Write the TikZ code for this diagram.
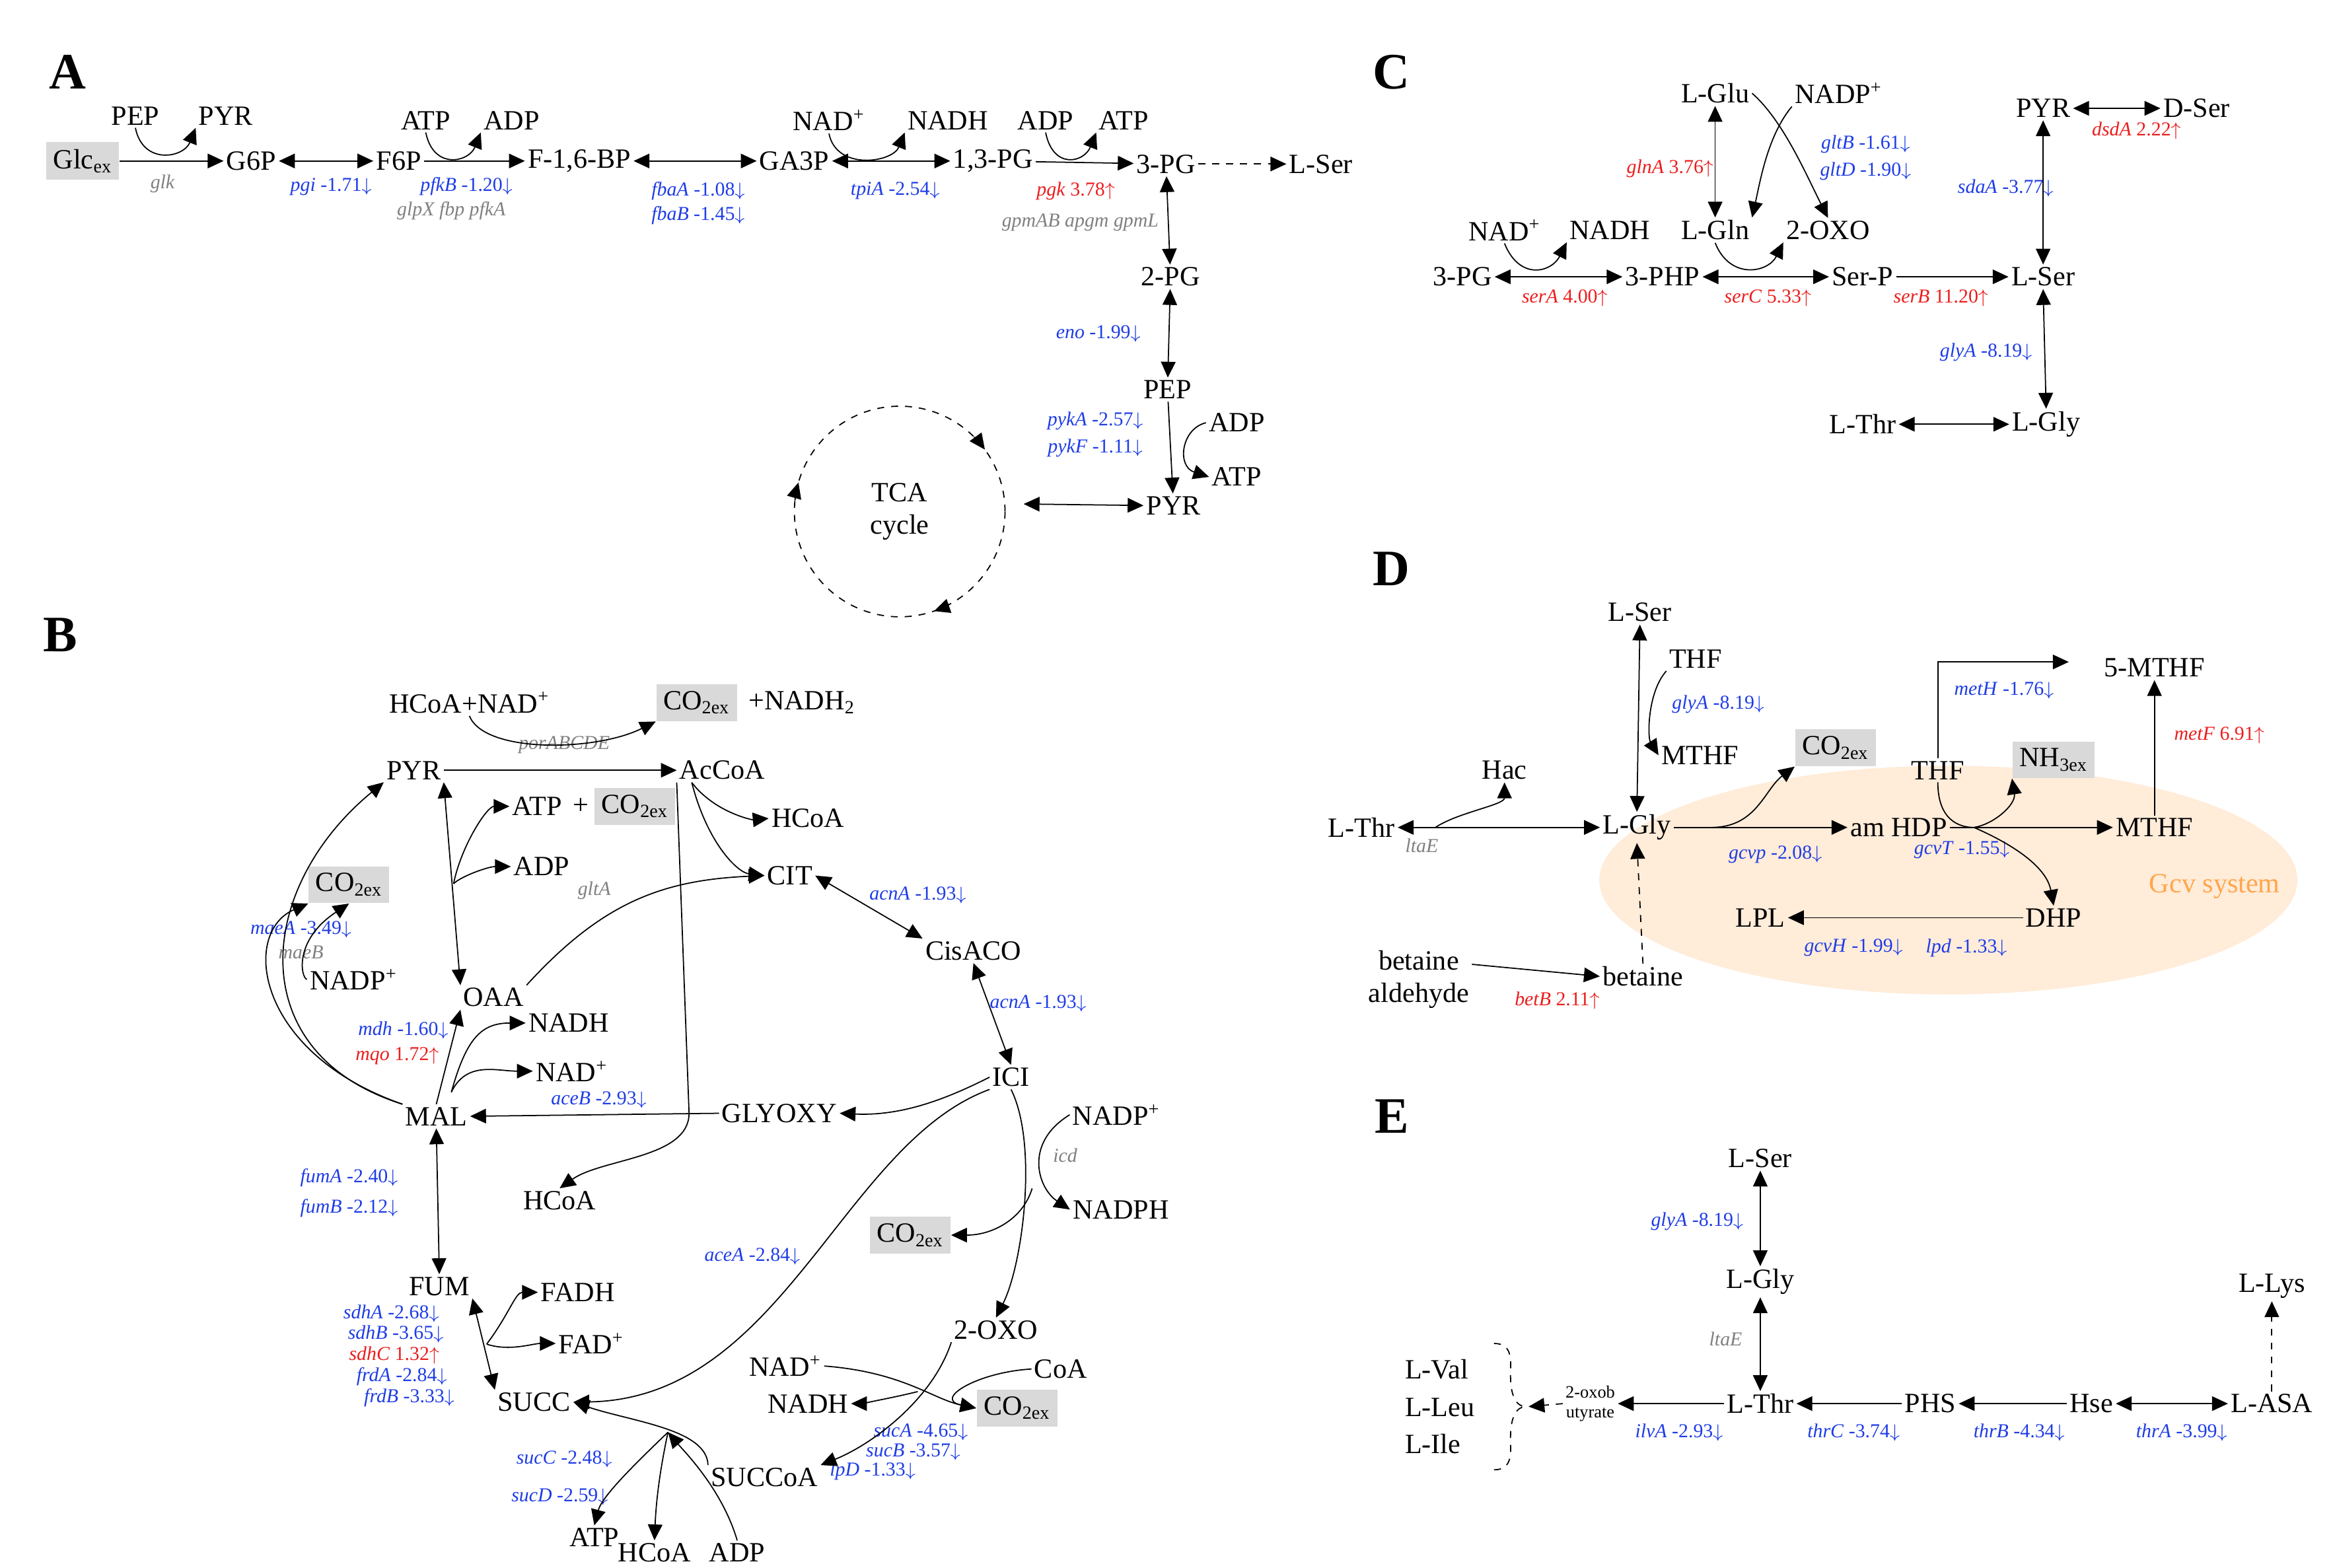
\documentclass[tikz,border=0pt]{standalone}
\usepackage{fontspec}
\setmainfont{Liberation Serif}
\usetikzlibrary{arrows.meta,positioning,calc}
\definecolor{enzblue}{RGB}{30,60,230}
\definecolor{enzred}{RGB}{235,30,30}
\newcommand{\dn}[2]{\textit{#1} #2$\downarrow$}
\newcommand{\up}[2]{\textit{#1} #2$\uparrow$}
\begin{document}
\begin{tikzpicture}
[x=0.2278mm, y=-0.2278mm, line width=0.5pt, >={Triangle[length=2.4mm,width=2.2mm]},
met/.style={font=\fontsize{12}{14}\selectfont, inner sep=1pt},
ex/.style={met, fill=black!15, inner sep=3pt},
enz/.style={font=\fontsize{8.5}{10}\selectfont, inner sep=0.5pt, text=enzblue},
enzr/.style={enz, text=enzred},
enzg/.style={enz, text=gray, font=\fontsize{8.5}{10}\selectfont\itshape},
panel/.style={font=\fontsize{22}{24}\selectfont\bfseries}]
\useasboundingbox (0,0) rectangle (1552,1042);

% ---- A: glycolysis
\node[panel] at (45,48) {A};
\node[ex] (glc) at (55,107) {Glc\textsubscript{ex}};
\node[met] (pepA1) at (90,77) {PEP};
\node[met] (pyrA1) at (150,77) {PYR};
\node[met] (g6p) at (167,107) {G6P};
\node[met] (f6p) at (265,107) {F6P};
\node[met] (f16bp) at (385,107) {F-1,6-BP};
\node[met] (ga3p) at (528,107) {GA3P};
\node[met] (pg13) at (660,107) {1,3-PG};
\node[met] (pg3) at (775,109) {3-PG};
\node[met] (lserA) at (878,109) {L-Ser};
\node[met] (atpA1) at (283,80) {ATP};
\node[met] (adpA1) at (340,80) {ADP};
\node[met] (nadA) at (551,80) {NAD\textsuperscript{+}};
\node[met] (nadhA) at (630,80) {NADH};
\node[met] (adpA2) at (695,80) {ADP};
\node[met] (atpA2) at (747,80) {ATP};
\node[enzg] at (108,122) {glk};
\node[enz] at (220,124) {\dn{pgi}{-1.71}};
\node[enz] at (310,124) {\dn{pfkB}{-1.20}};
\node[enzg] at (300,140) {glpX fbp pfkA};
\node[enz] at (464,127) {\dn{fbaA}{-1.08}};
\node[enz] at (464,143) {\dn{fbaB}{-1.45}};
\node[enz] at (595,127) {\dn{tpiA}{-2.54}};
\node[enzr] at (715,127) {\up{pgk}{3.78}};
\node[enzg] at (718,148) {gpmAB apgm gpmL};
\node[met] (pg2) at (778,184) {2-PG};
\node[enz] at (730,222) {\dn{eno}{-1.99}};
\node[met] (pepA2) at (776,259) {PEP};
\node[enz] at (728,280) {\dn{pykA}{-2.57}};
\node[enz] at (728,298) {\dn{pykF}{-1.11}};
\node[met] (adpA3) at (822,281) {ADP};
\node[met] (atpA3) at (822,317) {ATP};
\node[met] (pyrA2) at (780,336) {PYR};
\node[met, circle, draw, dashed, minimum size=140*0.2278mm, align=center] (tca) at (598,340) {TCA\\cycle};

\draw[->] (glc) -- (g6p);
\draw[->] (pepA1.south) .. controls +(5,25) and +(-8,20) .. (pyrA1.south west);
\draw[<->] (g6p) -- (f6p);
\draw[->] (f6p) -- (f16bp);
\draw[->] (atpA1.south) .. controls +(5,25) and +(-8,20) .. (adpA1.south west);
\draw[<->] (f16bp) -- (ga3p);
\draw[<->] (ga3p) -- (pg13);
\draw[->] (nadA.south) .. controls +(5,25) and +(-8,20) .. (nadhA.south west);
\draw[->] (pg13) -- (pg3);
\draw[->] (adpA2.south) .. controls +(5,25) and +(-8,20) .. (atpA2.south west);
\draw[->, dashed] (pg3) -- (lserA);
\draw[<->] (pg3) -- (pg2);
\draw[<->] (pg2) -- (pepA2);
\draw[->] (pepA2) -- (pyrA2);
\draw[->] (adpA3.west) .. controls (785,285) and (782,310) .. (atpA3.west);
\draw[<->] (tca.east) ++(12,-5) coordinate (tcaE) (tcaE) -- (pyrA2.west);
\draw[->] ([shift={(-45:70)}]tca.center) arc (-45:-36:70);
\draw[->] ([shift={(186:70)}]tca.center) arc (186:196:70);
\draw[->] ([shift={(62:70)}]tca.center) arc (62:71:70);

% ---- B: TCA cycle
\node[panel] at (40,422) {B};
\node[met] (hcoanad) at (312,467) {HCoA+NAD\textsuperscript{+}};
\node[ex] (co2B1) at (463,467) {CO\textsubscript{2ex}};
\node[met] at (533,467) {+NADH\textsubscript{2}};
\node[enzg] at (375,495) {porABCDE};
\node[met] (pyrB) at (275,512) {PYR};
\node[met] (accoa) at (480,512) {AcCoA};
\node[met] (atpB) at (357,536) {ATP};
\node[met] at (386,536) {+};
\node[ex] (co2B2) at (422,536) {CO\textsubscript{2ex}};
\node[met] (hcoaB1) at (537,544) {HCoA};
\node[met] (adpB) at (360,576) {ADP};
\node[met] (cit) at (525,582) {CIT};
\node[enzg] at (395,592) {gltA};
\node[ex] (co2B3) at (232,588) {CO\textsubscript{2ex}};
\node[enz] at (200,618) {\dn{maeA}{-3.49}};
\node[enzg] at (200,633) {maeB};
\node[met] (nadpB1) at (235,651) {NADP\textsuperscript{+}};
\node[met] (oaa) at (328,663) {OAA};
\node[met] (nadhB1) at (378,680) {NADH};
\node[enz] at (268,685) {\dn{mdh}{-1.60}};
\node[enzr] at (264,702) {\up{mqo}{1.72}};
\node[met] (nadB1) at (380,712) {NAD\textsuperscript{+}};
\node[enz] at (398,731) {\dn{aceB}{-2.93}};
\node[enz] at (610,595) {\dn{acnA}{-1.93}};
\node[met] (cisaco) at (647,632) {CisACO};
\node[enz] at (690,667) {\dn{acnA}{-1.93}};
\node[met] (ici) at (672,716) {ICI};
\node[met] (nadpB2) at (742,741) {NADP\textsuperscript{+}};
\node[enzg] at (708,768) {icd};
\node[met] (nadphB) at (745,804) {NADPH};
\node[met] (mal) at (290,742) {MAL};
\node[met] (glyoxy) at (518,740) {GLYOXY};
\node[met] (hcoaB2) at (372,798) {HCoA};
\node[enz] at (232,783) {\dn{fumA}{-2.40}};
\node[enz] at (232,803) {\dn{fumB}{-2.12}};
\node[met] (fum) at (292,855) {FUM};
\node[met] (fadh) at (384,859) {FADH};
\node[met] (fad) at (393,893) {FAD\textsuperscript{+}};
\node[enz] at (260,873) {\dn{sdhA}{-2.68}};
\node[enz] at (263,887) {\dn{sdhB}{-3.65}};
\node[enzr] at (262,901) {\up{sdhC}{1.32}};
\node[enz] at (267,915) {\dn{frdA}{-2.84}};
\node[enz] at (272,929) {\dn{frdB}{-3.33}};
\node[met] (succ) at (355,932) {SUCC};
\node[enz] at (500,835) {\dn{aceA}{-2.84}};
\node[ex] (co2B4) at (605,821) {CO\textsubscript{2ex}};
\node[met] (oxoB) at (662,884) {2-OXO};
\node[met] (nadB2) at (522,908) {NAD\textsuperscript{+}};
\node[met] (coa) at (705,910) {CoA};
\node[met] (nadhB2) at (537,933) {NADH};
\node[ex] (co2B5) at (676,936) {CO\textsubscript{2ex}};
\node[enz] at (375,970) {\dn{sucC}{-2.48}};
\node[enz] at (372,995) {\dn{sucD}{-2.59}};
\node[met] (succoa) at (508,982) {SUCCoA};
\node[enz] at (612,952) {\dn{sucA}{-4.65}};
\node[enz] at (607,965) {\dn{sucB}{-3.57}};
\node[enz] at (580,978) {\dn{lpD}{-1.33}};
\node[met] (atpB2) at (395,1022) {ATP};
\node[met] (hcoaB3) at (435,1032) {HCoA};
\node[met] (adpB2) at (490,1032) {ADP};

\draw[->] (hcoanad.south) .. controls +(10,25) and +(-40,20) .. (co2B1.south west);
\draw[->] (pyrB) -- (accoa);
\draw[<->] (pyrB.south east) -- (oaa.north west);
\path (pyrB) -- coordinate[pos=.5] (pc) (oaa);
\draw[->] (pc) .. controls +(5,-25) and +(-15,0) .. (atpB.west);
\draw[->] (pc) .. controls +(5,-5) and +(-15,0) .. (adpB.west);
\draw[->] (oaa.north east) .. controls (400,600) and (440,585) .. (cit.west);
\draw[->] (accoa.south west) ++(10,0) coordinate (acd) (acd) .. controls (470,560) and (490,580) .. (cit.west);
\draw[->] (acd) .. controls (475,540) and (500,545) .. (hcoaB1.west);
\draw[->] (accoa.south west) coordinate (acd2) (acd2) -- (458,740) .. controls (458,770) and (400,770) .. (hcoaB2.north);
\draw[<->] (cit.east) -- (cisaco.north west);
\draw[<->] (cisaco.south) -- (ici.north);
\draw[->] (ici.west) .. controls (630,730) and (600,742) .. (glyoxy.east);
\draw[->] (glyoxy.west) -- (mal.east);
\draw[->] (mal.north west) .. controls (160,700) and (170,590) .. (pyrB.south west);
\draw[->] (mal.north west) .. controls (170,700) and (160,620) .. (co2B3.south west);
\draw[->] (nadpB1.west) .. controls (200,650) and (195,625) .. (co2B3.south);
\draw[->] (mal.north) -- (oaa.south west);
\draw[->] (mal.north) ++(10,-8) coordinate (mo) (mo) .. controls (310,690) and (320,680) .. (nadhB1.west);
\draw[->] (mo) .. controls (310,705) and (330,712) .. (nadB1.west);
\draw[<->] (mal.south) -- (fum.north);
\draw[<->] (fum.south east) -- (succ.north west);
\path (fum) -- coordinate[pos=.5] (fs) (succ);
\draw[->] (fs) .. controls +(15,-20) and +(-15,0) .. (fadh.west);
\draw[->] (fs) .. controls +(15,5) and +(-15,0) .. (fad.west);
\draw[->] (ici.south west) .. controls (560,760) and (520,930) .. (succ.east);
\draw[->] (ici.south) .. controls (690,760) and (680,840) .. (oxoB.north);
\draw[->] (nadpB2.west) .. controls (680,760) and (690,790) .. (nadphB.west);
\draw[->] (686,790) .. controls (680,810) and (660,821) .. (co2B4.east);
\draw[->] (oxoB.south west) .. controls (620,930) and (580,960) .. (succoa.north east);
\draw[->] (coa.west) .. controls (650,912) and (620,930) .. (co2B5.west);
\draw[->] (nadB2.east) .. controls (600,912) and (620,930) .. (co2B5.west);
\draw[->] (610,925) .. controls (590,930) and (570,933) .. (nadhB2.east);
\draw[->] (succoa.north west) .. controls (470,950) and (420,945) .. (succ.east);
\draw[->] (444,952) .. controls (420,975) and (400,995) .. (atpB2.north);
\draw[->] (444,952) .. controls (438,980) and (436,1000) .. (hcoaB3.north);
\draw[->] (adpB2.north) .. controls (480,990) and (455,965) .. (444,952);

% ---- C: serine
\node[panel] at (925,48) {C};
\node[met] (lglu) at (1140,62) {L-Glu};
\node[met] (nadpC) at (1222,62) {NADP\textsuperscript{+}};
\node[met] (pyrC) at (1358,72) {PYR};
\node[met] (dser) at (1460,72) {D-Ser};
\node[enzr] at (1420,87) {\up{dsdA}{2.22}};
\node[enzr] at (1110,112) {\up{glnA}{3.76}};
\node[enz] at (1240,96) {\dn{gltB}{-1.61}};
\node[enz] at (1240,114) {\dn{gltD}{-1.90}};
\node[enz] at (1333,125) {\dn{sdaA}{-3.77}};
\node[met] (nadC) at (1000,153) {NAD\textsuperscript{+}};
\node[met] (nadhC) at (1070,153) {NADH};
\node[met] (lgln) at (1140,153) {L-Gln};
\node[met] (oxoC) at (1215,153) {2-OXO};
\node[met] (pg3C) at (972,184) {3-PG};
\node[met] (php) at (1105,184) {3-PHP};
\node[met] (serp) at (1238,184) {Ser-P};
\node[met] (lserC) at (1358,184) {L-Ser};
\node[enzr] at (1040,198) {\up{serA}{4.00}};
\node[enzr] at (1175,198) {\up{serC}{5.33}};
\node[enzr] at (1290,198) {\up{serB}{11.20}};
\node[enz] at (1320,234) {\dn{glyA}{-8.19}};
\node[met] (lthrC) at (1238,282) {L-Thr};
\node[met] (lglyC) at (1360,282) {L-Gly};

\draw[<->] (pg3C) -- (php);
\draw[->] (nadC.south) .. controls +(10,25) and +(-10,20) .. (nadhC.south west);
\draw[<->] (php) -- (serp);
\draw[->] (lgln.south) .. controls +(10,25) and +(-10,20) .. (oxoC.south west);
\draw[->] (serp) -- (lserC);
\draw[<->] (lglu.south) -- (lgln.north);
\draw[->] (nadpC.south west) .. controls (1175,90) and (1170,120) .. (lgln.north east);
\draw[->] (lglu.east) .. controls (1185,80) and (1200,115) .. (oxoC.north);
\draw[<->] (pyrC.south) -- (lserC.north);
\draw[<->] (pyrC) -- (dser);
\draw[<->] (lserC.south) -- (lglyC.north);
\draw[<->] (lthrC) -- (lglyC);

% ---- D: glycine cleavage
\node[panel] at (925,378) {D};
\fill[orange!15] (1295,585) ellipse (232 and 76);
\node[met] (lserD) at (1090,407) {L-Ser};
\node[met] (thfD1) at (1127,438) {THF};
\node[enz] at (1142,468) {\dn{glyA}{-8.19}};
\node[met] (mthfD1) at (1130,502) {MTHF};
\node[enz] at (1332,459) {\dn{metH}{-1.76}};
\node[met] (mthf5) at (1432,444) {5-MTHF};
\node[enzr] at (1475,489) {\up{metF}{6.91}};
\node[met] (hac) at (1000,512) {Hac};
\node[ex] (co2D) at (1220,497) {CO\textsubscript{2ex}};
\node[met] (thfD2) at (1288,512) {THF};
\node[ex] (nh3) at (1365,505) {NH\textsubscript{3ex}};
\node[met] (lthrD) at (905,550) {L-Thr};
\node[enzg] at (945,562) {ltaE};
\node[met] (lglyD) at (1088,550) {L-Gly};
\node[met] (amhdp) at (1262,550) {am HDP};
\node[met] (mthfD2) at (1432,550) {MTHF};
\node[enz] at (1180,568) {\dn{gcvp}{-2.08}};
\node[enz] at (1304,565) {\dn{gcvT}{-1.55}};
\node[met, text=orange!70] at (1472,589) {Gcv system};
\node[met] (lpl) at (1170,610) {LPL};
\node[met] (dhp) at (1365,610) {DHP};
\node[enz] at (1232,630) {\dn{gcvH}{-1.99}};
\node[enz] at (1307,630) {\dn{lpd}{-1.33}};
\node[met, align=center] (betald) at (943,651) {betaine\\aldehyde};
\node[met] (betaine) at (1092,649) {betaine};
\node[enzr] at (1035,665) {\up{betB}{2.11}};

\draw[<->] (lserD.south) -- (lglyD.north);
\draw[->] (thfD1.south west) .. controls (1095,460) and (1095,490) .. (mthfD1.west);
\draw[<->] (lthrD) -- (lglyD);
\draw[->] (lthrD.east) ++(25,0) coordinate (tg) (tg) .. controls +(15,-10) and +(0,15) .. (hac.south);
\draw[->] (lglyD) -- (amhdp);
\draw[->] (lglyD.east) ++(25,0) coordinate (ga) (ga) .. controls +(30,0) and +(-20,15) .. (co2D.south west);
\draw[->] (amhdp) -- (mthfD2);
\coordinate (am) at (1312,550);
\draw (thfD2.south) .. controls +(0,25) and +(-10,0) .. (am);
\draw[->] (am) .. controls (1325,548) and (1340,535) .. (nh3.south west);
\draw[->] (am) .. controls (1335,560) and (1360,575) .. (dhp.north);
\draw[->] (thfD2.north) |- (1375,440) coordinate (mh);
\draw[->] (mthfD2.north) -- (mthf5.south);
\draw[->] (dhp.west) -- (lpl.east);
\draw[->] (betald.east |- 0,641) coordinate (ba) (ba) -- (betaine.west);
\draw[->, dashed] (betaine.north) -- (lglyD.south);

% ---- E: threonine
\node[panel] at (925,742) {E};
\node[met] (lserE) at (1170,770) {L-Ser};
\node[enz] at (1128,812) {\dn{glyA}{-8.19}};
\node[met] (lglyE) at (1170,852) {L-Gly};
\node[enzg] at (1147,890) {ltaE};
\node[met] (lthrE) at (1170,933) {L-Thr};
\node[met] (llys) at (1510,855) {L-Lys};
\node[met] (lasa) at (1510,933) {L-ASA};
\node[met] (hse) at (1390,933) {Hse};
\node[met] (phs) at (1283,933) {PHS};
\node[met, font=\fontsize{7.5}{8.5}\selectfont, align=center] (oxob) at (1057,933) {2-oxob\\utyrate};
\node[met, align=left] (bcaa) at (957,935) {L-Val\\[2pt]L-Leu\\[2pt]L-Ile};
\draw[dashed] (993,893) .. controls (1006,893) and (1004,905) .. (1004,915) .. controls (1004,928) and (1008,935) .. (1014,935) .. controls (1008,935) and (1004,942) .. (1004,955) .. controls (1004,965) and (1006,977) .. (993,977);
\node[enz] at (1116,952) {\dn{ilvA}{-2.93}};
\node[enz] at (1232,952) {\dn{thrC}{-3.74}};
\node[enz] at (1342,952) {\dn{thrB}{-4.34}};
\node[enz] at (1450,952) {\dn{thrA}{-3.99}};

\draw[<->] (lserE.south) -- (lglyE.north);
\draw[<->] (lglyE.south) -- (lthrE.north);
\draw[->] (lthrE.west) -- (oxob.east);
\draw[->, dashed] (oxob.west) -- (1016,935);
\draw[->] (phs.west) -- (lthrE.east);
\draw[->] (hse.west) -- (phs.east);
\draw[<->] (lasa.west) -- (hse.east);
\draw[->, dashed] (lasa.north) -- (llys.south);
\end{tikzpicture}
\end{document}
